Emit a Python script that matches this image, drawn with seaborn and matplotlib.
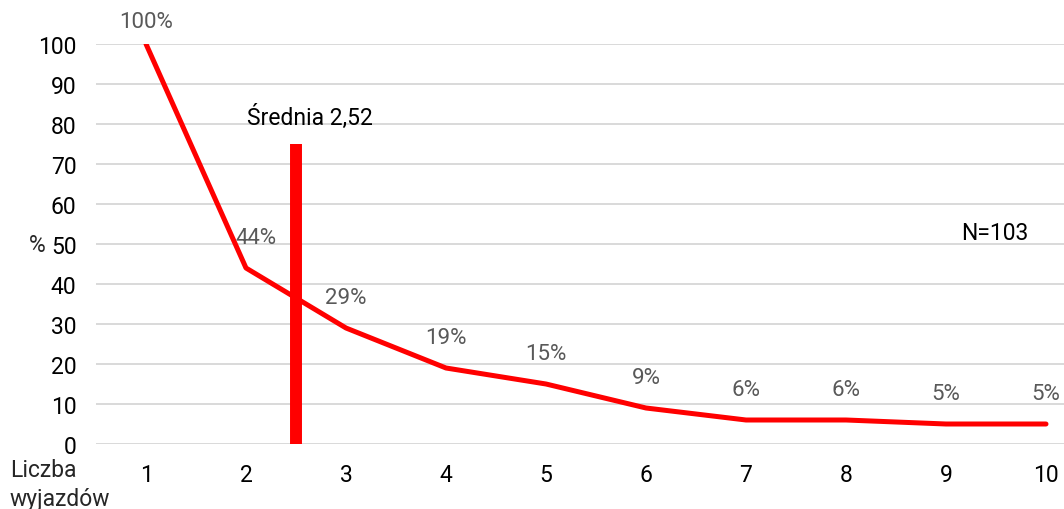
import matplotlib
matplotlib.use("Agg")
import matplotlib.pyplot as plt
import seaborn as sns
import pandas as pd

# =========================================================
# DATA
# =========================================================

trips = [1, 2, 3, 4, 5, 6, 7, 8, 9, 10]
share = [100, 44, 29, 19, 15, 9, 6, 6, 5, 5]
labels = ["100%", "44%", "29%", "19%", "15%", "9%", "6%", "6%", "5%", "5%"]

mean_value = 2.5
mean_top = 75
mean_text = "Średnia 2,52"
n_text = "N=103"

df = pd.DataFrame({"trips": trips, "share": share})

# =========================================================
# PLOT
# =========================================================

sns.set_style("white")
plt.rcParams["font.family"] = ["Roboto", "DejaVu Sans"]

FS = 16.5

fig = plt.figure(figsize=(10.64, 5.10), dpi=100)
ax = fig.add_axes([96 / 1064, 1 - 445 / 510, 1 - 96 / 1064, 400 / 510])

sns.lineplot(data=df, x="trips", y="share", color="#ff0000", linewidth=3.6,
             solid_capstyle="round", ax=ax, zorder=3)

ax.vlines(mean_value, 0, mean_top, color="#ff0000", linewidth=8.6, zorder=4)

# data labels
for i, (x, y, lab) in enumerate(zip(trips, share, labels)):
    dx = 10 if i == 1 else 0
    dy = 23 if i == 0 else 30
    ax.annotate(lab, (x, y), xytext=(dx, dy), textcoords="offset pixels",
                ha="center", va="center", color="#595959", fontsize=16)

ax.text(mean_value + 0.14, 82, mean_text, ha="center", va="center",
        fontsize=FS, color="black")
ax.text(9.49, 53, n_text, ha="center", va="center", fontsize=FS,
        color="black")

ax.set_xlim(0.5, 0.5 + 968 / 100)
ax.set_ylim(0, 100)
ax.set_yticks(range(0, 101, 10))
ax.set_xticks(trips)
ax.yaxis.grid(True, color="#d9d9d9", linewidth=1.4)
ax.xaxis.grid(False)
ax.set_axisbelow(True)
for s in ax.spines.values():
    s.set_visible(False)

ax.tick_params(axis="both", length=0, labelsize=FS, colors="black")
ax.tick_params(axis="x", pad=14)
ax.tick_params(axis="y", pad=14)

ax.set_xlabel("")
ax.set_ylabel("")
fig.text(37 / 1064, 1 - 245 / 510, "%", ha="center", va="center",
         fontsize=FS)
fig.text(10 / 1064, 1 - 485 / 510, "Liczba\nwyjazdów", ha="left",
         va="center", fontsize=FS, linespacing=1.35)

fig.savefig("out.png", dpi=100)
plt.close(fig)
